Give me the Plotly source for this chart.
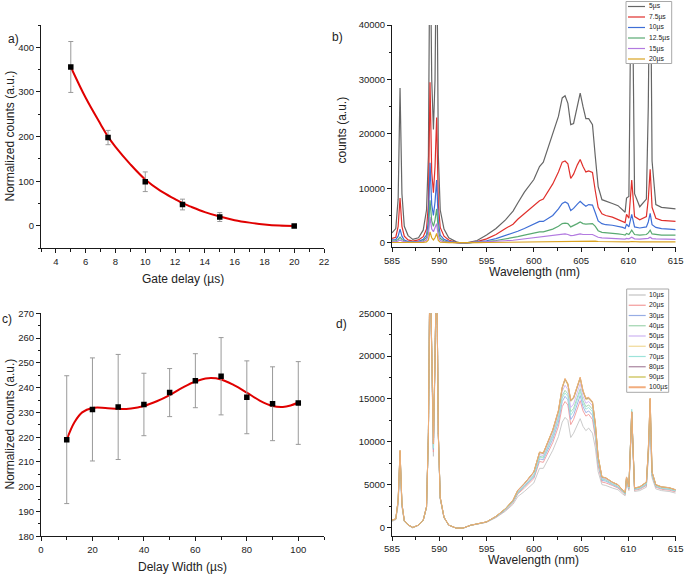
import plotly.graph_objects as go

W, H = 685, 575

# ---------------- Panel a: gate delay ----------------
gate_delay = [5, 7.5, 10, 12.5, 15, 20]
gate_counts = [356, 198, 99, 48, 20, 0]
gate_err = [57, 16, 22, 12, 10, 3]
gate_fit_x = [5, 6, 7, 7.5, 8, 9, 10, 11, 12, 12.5, 13, 14, 15, 16, 17, 18, 19, 20]
gate_fit_y = [356, 287, 228, 200, 177, 138, 104, 79, 60, 51, 44, 31, 21, 13, 7.5, 3.5, 1, 0]

# ---------------- Panel c: delay width ----------------
width_x = [10, 20, 30, 40, 50, 60, 70, 80, 90, 100]
width_counts = [219, 231.2, 232.2, 233.2, 238, 242.8, 244.6, 236.1, 233.5, 233.8]
width_err = [25.8, 20.8, 21.2, 12.6, 9.7, 10.9, 15.6, 14.7, 14.9, 16.7]
width_fit_x = [10, 13, 16, 20, 25, 30, 35, 40, 45, 50, 55, 60, 65, 70, 75, 80, 85, 90, 94, 97, 100]
width_fit_y = [219, 226, 230, 231.8, 231.8, 231.4, 231.6, 232.6, 234.5, 237, 240, 242.5, 243.8, 243.3,
               241, 238, 234.8, 232.6, 232.2, 232.8, 234]

# ---------------- Spectra (shared wavelength grid) ----------------
WL = [585.0, 585.4, 585.65, 585.85, 586.05, 586.3, 586.7,
      587.2, 587.8, 588.3, 588.65, 588.85, 589.02, 589.2, 589.38, 589.55, 589.72, 589.9, 590.1, 590.5,
      591.0, 591.8, 592.5, 593.3, 594.0, 595.0, 596.0, 597.0, 597.8, 598.3, 599.0, 600.0,
      600.6, 601.0, 602.0, 602.6, 603.0, 603.3, 603.6, 603.9, 604.2, 604.6, 604.9, 605.2, 605.5, 605.8,
      606.2, 606.5, 606.8, 607.2, 607.6,
      608.3, 608.9, 609.4, 609.65, 609.8, 610.05, 610.35, 610.65, 611.2, 611.9, 612.1, 612.3, 612.5,
      612.9, 613.5, 614.3, 615.0]

# Panel b: gate delay series
b_names = ["5µs", "7.5µs", "10µs", "12.5µs", "15µs", "20µs"]
B5 = [1800, 2600, 8000, 28400, 9000, 3000, 1300,
      600, 900, 2300, 6000, 16000, 60000, 30000, 20800, 30000, 60000, 16000, 6000, 2500,
      900, 150, -150, 100, 400, 1400, 2600, 4200, 5800, 7300, 9300, 11600,
      14000, 14800, 20200, 23200, 26600, 27000, 25600, 21700, 21900, 25000, 27500, 25000, 22800, 22800,
      21700, 15800, 10300, 7900, 7600,
      7200, 6800, 6100, 5600, 8200, 8500, 60000, 9000, 6600, 8000, 25000, 60000, 15000, 7000, 6500, 6400, 6200]
B7_5 = [800, 1000, 3000, 8200, 3000, 1200, 500,
        300, 500, 1100, 2500, 7000, 29500, 13000, 9200, 14000, 23000, 7000, 2800, 1200,
        500, 0, -150, 0, 200, 700, 1500, 2600, 3400, 4300, 5300, 6800,
        7700, 8000, 10800, 13000, 14800, 15000, 14500, 11800, 12600, 14300, 15300, 14000, 13000, 13200,
        12900, 9500, 6500, 5300, 5000,
        4700, 4300, 3900, 3700, 5200, 4500, 11500, 4800, 4200, 4800, 8000, 13500, 6500, 4500, 4100, 4000, 3900]
B10 = [500, 550, 1200, 2500, 1200, 500, 200,
       150, 250, 600, 1400, 4000, 14700, 7000, 5000, 7500, 11500, 3800, 1400, 600,
       250, 0, -100, 0, 100, 350, 750, 1300, 1700, 2100, 2600, 3400,
       3900, 3900, 5000, 6200, 7200, 7500, 7200, 5900, 6300, 7100, 7600, 7100, 6700, 7000,
       6900, 5500, 4000, 3500, 3300,
       3200, 3000, 2800, 2600, 3400, 2900, 5200, 2900, 2700, 2900, 3800, 5400, 3300, 2800, 2600, 2500, 2400]
B12_5 = [300, 350, 600, 1000, 600, 300, 100,
         80, 150, 350, 900, 2500, 7800, 4000, 3000, 4200, 6200, 2200, 800, 300,
         100, 0, -80, 0, 60, 200, 400, 700, 900, 1100, 1400, 1800,
         2000, 2000, 2500, 3000, 3500, 3600, 3500, 2900, 3100, 3500, 3800, 3500, 3400, 3500,
         3500, 3000, 2200, 1900, 1800,
         1700, 1600, 1500, 1400, 1700, 1500, 2300, 1500, 1400, 1500, 1800, 2300, 1600, 1500, 1400, 1400, 1400]
B15 = [150, 150, 300, 500, 300, 150, 50,
       40, 80, 200, 500, 1500, 4700, 2500, 2000, 2600, 3500, 1200, 400, 150,
       50, 0, -50, 0, 30, 100, 200, 350, 450, 550, 700, 900,
       1000, 1000, 1200, 1400, 1500, 1600, 1500, 1300, 1350, 1500, 1600, 1500, 1450, 1500,
       1500, 1300, 1000, 900, 850,
       800, 750, 700, 650, 800, 700, 1000, 700, 650, 700, 800, 1000, 750, 700, 650, 650, 600]
B20 = [30, 30, 60, 100, 60, 30, 10,
       10, 20, 60, 150, 500, 2000, 900, 500, 900, 1700, 400, 100, 40,
       10, 0, -30, 0, 10, 30, 60, 90, 110, 130, 160, 200,
       220, 220, 250, 280, 300, 310, 300, 270, 280, 300, 310, 300, 290, 300,
       300, 270, 220, 200, 190,
       180, 170, 160, 150, 170, 160, 220, 160, 150, 160, 180, 220, 160, 150, 140, 140, 130]
b_series = [B5, B7_5, B10, B12_5, B15, B20]
b_colors = ["#666666", "#e0302c", "#3f6fd6", "#5aaa72", "#b27ae0", "#d9a322"]

# Panel d: delay width series
d_names = ["10µs", "20µs", "30µs", "40µs", "50µs", "60µs", "70µs", "80µs", "90µs", "100µs"]
D10 = [700, 900, 2600, 7300, 2400, 700, 250,
       -50, 250, 800, 2300, 10500, 31000, 19000, 8300, 19000, 31000, 10500, 3300, 1100,
       250, -100, -100, 230, 380, 600, 1150, 1900, 2700, 3600, 4200, 5200,
       6900, 6900, 9000, 10600, 12300, 12850, 12500, 10500, 11000, 12000, 12700, 11800, 11300, 11600,
       11000, 9300, 6500, 5000, 4900,
       4600, 4400, 3900, 3700, 5300, 4300, 12500, 4200, 4300, 4700, 8000, 11700, 5800, 4500, 4300, 4200, 4000]
D20 = [800, 950, 2900, 8300, 2600, 750, 280,
       -30, 260, 820, 2350, 10700, 31500, 19500, 8800, 19500, 31500, 10700, 3400, 1150,
       260, -90, -90, 240, 390, 620, 1200, 2000, 2900, 3900, 4600, 5700,
       7700, 7600, 9900, 11800, 14100, 14700, 14300, 12000, 12600, 13800, 14800, 13600, 13000, 13200,
       12600, 10500, 7200, 5300, 5200,
       4900, 4600, 4100, 3850, 5500, 4450, 12800, 4350, 4450, 4900, 8400, 13000, 6000, 4700, 4450, 4350, 4150]
D30 = [820, 980, 3000, 8500, 2650, 760, 290,
       -20, 265, 830, 2370, 10800, 31700, 19700, 9100, 19700, 31700, 10800, 3420, 1160,
       260, -90, -90, 245, 395, 630, 1230, 2050, 3000, 4000, 4750, 5900,
       8000, 7900, 10300, 12300, 14700, 15300, 14900, 12600, 13100, 14400, 15400, 14100, 13400, 13600,
       13100, 10900, 7500, 5500, 5400,
       5000, 4700, 4200, 3900, 5600, 4550, 13500, 4450, 4550, 5000, 8600, 13500, 6100, 4800, 4550, 4450, 4250]
D40 = [830, 990, 3050, 8600, 2700, 770, 290,
       -10, 265, 835, 2380, 10850, 31800, 19800, 9300, 19800, 31800, 10850, 3450, 1170,
       265, -85, -85, 245, 395, 635, 1250, 2100, 3050, 4100, 4850, 6100,
       8300, 8200, 10800, 12900, 15400, 16000, 15600, 13500, 13900, 15200, 16200, 14800, 14100, 14300,
       13800, 11400, 7800, 5650, 5550,
       5100, 4800, 4250, 3950, 5700, 4600, 13300, 4500, 4600, 5100, 8700, 14000, 6200, 4850, 4600, 4500, 4300]
D50 = [840, 995, 3100, 8800, 2750, 780, 295,
       -5, 268, 840, 2390, 10900, 31900, 19900, 9500, 19900, 31900, 10900, 3470, 1180,
       268, -82, -82, 248, 398, 640, 1270, 2150, 3100, 4200, 5000, 6300,
       8500, 8400, 11000, 13200, 15900, 16600, 16100, 14000, 14400, 15700, 16800, 15300, 14500, 14700,
       14200, 11800, 8000, 5750, 5650,
       5200, 4900, 4300, 4000, 5800, 4650, 13400, 4550, 4650, 5200, 8800, 14500, 6300, 4900, 4650, 4550, 4350]
D60 = [845, 998, 3150, 8900, 2780, 790, 298,
       0, 270, 845, 2395, 10950, 32000, 20000, 9700, 20000, 32000, 10950, 3490, 1190,
       270, -80, -80, 250, 400, 645, 1290, 2180, 3150, 4300, 5100, 6450,
       8700, 8600, 11300, 13500, 16200, 17200, 16600, 14700, 15000, 16200, 17300, 15800, 14900, 15000,
       14500, 12000, 8200, 5850, 5750,
       5250, 4950, 4330, 4050, 5850, 4700, 13450, 4580, 4700, 5250, 8900, 14900, 6400, 4950, 4700, 4600, 4380]
D70 = [828, 988, 3040, 8580, 2690, 768, 290,
       -12, 264, 834, 2378, 10840, 31780, 19780, 9250, 19780, 31780, 10840, 3445, 1168,
       262, -88, -88, 243, 393, 632, 1240, 2080, 3020, 4050, 4800, 6000,
       8200, 8100, 10600, 12700, 15100, 15700, 15300, 13100, 13600, 14900, 15900, 14500, 13800, 14000,
       13500, 11200, 7700, 5600, 5500,
       5050, 4750, 4220, 3920, 5650, 4570, 13800, 4470, 4570, 5050, 8650, 13800, 6150, 4820, 4570, 4470, 4270]
D80 = [848, 999, 3170, 8950, 2790, 795, 299,
       0, 270, 848, 2398, 10980, 32000, 20000, 9750, 20000, 32000, 10980, 3495, 1195,
       270, -80, -80, 250, 400, 648, 1295, 2190, 3170, 4320, 5120, 6480,
       8750, 8650, 11350, 13600, 16300, 17300, 16700, 14800, 15100, 16300, 17450, 15900, 15000, 15100,
       14600, 12100, 8200, 5850, 5780,
       5280, 4980, 4340, 4080, 5880, 4730, 13480, 4590, 4730, 5280, 8950, 15000, 6450, 4980, 4730, 4630, 4390]
D90 = [850, 1000, 3190, 8980, 2800, 800, 300,
       0, 270, 850, 2400, 11000, 32000, 20000, 9780, 20000, 32000, 11000, 3500, 1200,
       270, -80, -80, 250, 400, 650, 1300, 2200, 3190, 4340, 5140, 6490,
       8800, 8700, 11400, 13650, 16350, 17350, 16750, 14850, 15150, 16350, 17500, 15950, 15050, 15150,
       14650, 12150, 8250, 5900, 5800,
       5290, 4990, 4345, 4090, 5890, 4740, 13490, 4595, 4740, 5290, 8980, 15050, 6480, 4990, 4740, 4640, 4395]
D100 = [850, 1000, 3200, 9000, 2800, 800, 300,
        0, 270, 850, 2400, 11000, 32000, 20000, 9800, 20000, 32000, 11000, 3500, 1200,
        270, -80, -80, 250, 400, 650, 1300, 2200, 3200, 4350, 5150, 6500,
        8800, 8700, 11400, 13700, 16400, 17400, 16800, 14900, 15200, 16400, 17550, 16000, 15100, 15200,
        14700, 12200, 8250, 5900, 5800,
        5300, 5000, 4350, 4100, 5900, 4750, 13500, 4600, 4750, 5300, 9000, 15100, 6500, 5000, 4750, 4650, 4400]
d_series = [D10, D20, D30, D40, D50, D60, D70, D80, D90, D100]
d_colors = ["#c4c4c4", "#f29a9a", "#97ade4", "#9fd4ae", "#cdb5f2", "#f0d996",
            "#9de3da", "#a8849f", "#c6bc48", "#f2ad7e"]

# ---------------- layout geometry (pixels) ----------------
def px(x):
    return x / W

def py(y):
    return 1 - y / H

PANELS = {
    "a": dict(x0=41, x1=324, y0=25, y1=248.3),
    "b": dict(x0=392, x1=675.7, y0=25, y1=247.3),
    "c": dict(x0=41, x1=324, y0=313.3, y1=536.3),
    "d": dict(x0=392, x1=675.7, y0=313.3, y1=536),
}

FONT = "Liberation Sans, Arial, sans-serif"
AX = "#1a1a1a"

fig = go.Figure()

# Panel a
fig.add_trace(go.Scatter(x=gate_fit_x, y=gate_fit_y, mode="lines", line=dict(color="#e00000", width=2, shape="spline"),
                         xaxis="x", yaxis="y", showlegend=False, hoverinfo="skip"))
fig.add_trace(go.Scatter(x=gate_delay, y=gate_counts, mode="markers",
                         marker=dict(symbol="square", size=5.5, color="black"),
                         error_y=dict(type="data", array=gate_err, color="#9a9a9a", thickness=1, width=2.5),
                         xaxis="x", yaxis="y", showlegend=False))

# Panel b
for name, ser, col in zip(b_names, b_series, b_colors):
    fig.add_trace(go.Scatter(x=WL, y=ser, mode="lines", name=name, line=dict(color=col, width=1.2),
                             xaxis="x2", yaxis="y2", showlegend=False))

# Panel c
fig.add_trace(go.Scatter(x=width_fit_x, y=width_fit_y, mode="lines", line=dict(color="#e00000", width=2, shape="spline"),
                         xaxis="x3", yaxis="y3", showlegend=False, hoverinfo="skip"))
fig.add_trace(go.Scatter(x=width_x, y=width_counts, mode="markers",
                         marker=dict(symbol="square", size=5.5, color="black"),
                         error_y=dict(type="data", array=width_err, color="#9a9a9a", thickness=1, width=2.5),
                         xaxis="x3", yaxis="y3", showlegend=False))

# Panel d
for name, ser, col in zip(d_names, d_series, d_colors):
    fig.add_trace(go.Scatter(x=WL, y=ser, mode="lines", name=name, line=dict(color=col, width=0.9),
                             xaxis="x4", yaxis="y4", showlegend=False))


def axis(panel, horiz, rng, dtick, tick0, minor_dtick):
    p = PANELS[panel]
    dom = [px(p["x0"]), px(p["x1"])] if horiz else [py(p["y1"]), py(p["y0"])]
    return dict(domain=dom, range=rng, dtick=dtick, tick0=tick0, showline=True, linecolor=AX, linewidth=1,
                ticks="outside", ticklen=4, tickwidth=1, tickcolor=AX, showgrid=False, zeroline=False,
                tickformat="d", automargin=False,
                tickfont=dict(family=FONT, size=9.5, color="#222"), mirror=False, fixedrange=True,
                minor=dict(ticks="outside", ticklen=2.5, tickwidth=1, tickcolor=AX, dtick=minor_dtick,
                           tick0=tick0, showgrid=False))

layout = dict(
    width=W, height=H, margin=dict(l=0, r=0, t=0, b=0, pad=0), autosize=False,
    paper_bgcolor="white", plot_bgcolor="white", showlegend=False,
    xaxis=dict(axis("a", True, [3, 22], 2, 0, 1), anchor="y"),
    yaxis=dict(axis("a", False, [-50, 450], 100, 0, 50), anchor="x"),
    xaxis2=dict(axis("b", True, [585, 615], 5, 585, 2.5), anchor="y2"),
    yaxis2=dict(axis("b", False, [-850, 40000], 10000, 0, 5000), anchor="x2"),
    xaxis3=dict(axis("c", True, [0, 110], 20, 0, 10), anchor="y3"),
    yaxis3=dict(axis("c", False, [180, 270], 10, 180, 5), anchor="x3"),
    xaxis4=dict(axis("d", True, [585, 615], 5, 585, 2.5), anchor="y4"),
    yaxis4=dict(axis("d", False, [-1000, 25000], 5000, 0, 2500), anchor="x4"),
)
fig.update_layout(**layout)

annotations = []
def text(s, x, y, size=12, angle=0, xanchor="center"):
    annotations.append(dict(text=s, x=px(x), y=py(y), xref="paper", yref="paper", showarrow=False,
                            textangle=angle, xanchor=xanchor, yanchor="middle",
                            font=dict(family=FONT, size=size, color="#222")))

# panel labels
text("a)", 13, 39)
text("b)", 337, 37)
text("c)", 7, 319)
text("d)", 341, 324)
# axis titles
text("Normalized counts (a.u.)", 9.5, 136, angle=-90)
text("Gate delay (µs)", 183, 279)
text("counts (a.u.)", 341.5, 130, angle=-90)
text("Wavelength (nm)", 534, 272)
text("Normalized counts (a.u.)", 9.5, 424, angle=-90)
text("Delay Width (µs)", 182.5, 567)
text("Wavelength (nm)", 533.5, 560)

shapes = []
def legend(names, colors, box, y_first, step, widths):
    x0, y0, x1, y1 = box
    shapes.append(dict(type="rect", xref="paper", yref="paper", x0=px(x0), x1=px(x1), y0=py(y1), y1=py(y0),
                       line=dict(color="#a8a8a8", width=1), fillcolor="white", layer="above"))
    for i, (n, c) in enumerate(zip(names, colors)):
        yy = y_first + i * step
        shapes.append(dict(type="line", xref="paper", yref="paper", x0=px(x0 + 2), x1=px(x0 + 19),
                           y0=py(yy), y1=py(yy), line=dict(color=c, width=widths[i]), layer="above"))
        annotations.append(dict(text=n, x=px(x0 + 20.5), y=py(yy), xref="paper", yref="paper", showarrow=False,
                                xanchor="left", yanchor="middle",
                                font=dict(family=FONT, size=6.8, color="#222")))

legend(b_names, b_colors, (626, 1.5, 671.7, 63.5), 6.5, 10.5, [1.2] * 6)
legend(d_names, d_colors, (626.7, 289, 668.7, 392.3), 295, 10.25, [1.2] * 9 + [2])

fig.update_layout(annotations=annotations, shapes=shapes)
fig.write_html("out.html", config={"displayModeBar": False, "staticPlot": True},
               post_script="document.body.style.margin='0';document.body.style.padding='0';"
                           "document.documentElement.style.overflow='hidden';")
